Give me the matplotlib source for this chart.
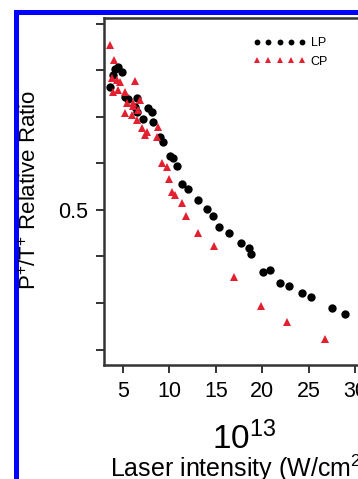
import matplotlib
matplotlib.use("Agg")
import matplotlib.pyplot as plt
from matplotlib.patches import Rectangle

plt.rcParams['font.family'] = ['Liberation Sans', 'DejaVu Sans']
plt.rcParams['mathtext.fontset'] = 'custom'
plt.rcParams['mathtext.rm'] = 'Liberation Sans'
plt.rcParams['mathtext.it'] = 'Liberation Sans:italic'

# laser intensity (x 1e13 W/cm^2) and P+/T+ ratio
lp_x = [3.60, 3.92, 4.14, 4.46, 4.89, 5.22, 5.54, 6.51, 6.29, 6.51, 7.16, 7.69,
        8.13, 8.23, 8.99, 9.31, 10.06, 10.39, 10.82, 11.36, 12.00, 13.08, 14.05,
        14.70, 15.34, 16.42, 17.72, 18.58, 18.79, 20.09, 20.84, 21.92, 22.89,
        24.29, 25.26, 27.52, 28.92]
lp_y = [0.764, 0.790, 0.803, 0.807, 0.796, 0.742, 0.738, 0.740, 0.721, 0.710,
        0.695, 0.719, 0.710, 0.689, 0.657, 0.646, 0.616, 0.612, 0.594, 0.556,
        0.545, 0.521, 0.502, 0.487, 0.464, 0.451, 0.429, 0.418, 0.406, 0.367,
        0.371, 0.343, 0.337, 0.322, 0.313, 0.290, 0.277]

cp_x = [3.60, 4.03, 3.81, 4.35, 4.68, 6.29, 3.92, 4.46, 5.22, 5.43, 6.08, 6.83,
        6.08, 5.22, 5.97, 6.62, 6.51, 7.05, 7.59, 7.37, 8.77, 8.66, 9.20, 9.74,
        9.96, 10.28, 10.60, 11.36, 11.79, 13.08, 14.81, 16.96, 19.87, 22.67, 26.77]
cp_y = [0.854, 0.822, 0.783, 0.779, 0.775, 0.777, 0.753, 0.758, 0.753, 0.730,
        0.730, 0.736, 0.723, 0.708, 0.704, 0.715, 0.693, 0.676, 0.667, 0.661,
        0.678, 0.657, 0.601, 0.592, 0.567, 0.539, 0.532, 0.515, 0.487, 0.451,
        0.423, 0.356, 0.294, 0.260, 0.223]

x_ticks = [5, 10, 15, 20, 25, 30, 35]
y_ticks = [0.2, 0.3, 0.4, 0.5, 0.6, 0.7, 0.8, 0.9]
y_ticklabels = ['', '', '', '0.5', '', '', '', '']

red = '#e3202f'

fig = plt.figure(figsize=(3.58, 4.79), dpi=100)
ax = fig.add_axes([0.2905, 0.238, 0.85, 0.7244])

ax.plot(lp_x, lp_y, 'o', color='black', ms=6, mew=0, label='LP')
ax.plot(cp_x, cp_y, '^', color=red, ms=6, mew=0, label='CP')

ax.set_xlim(2.95, 2.95 + 0.85 * 358 / 9.28)
ax.set_ylim(0.167, 0.912)
ax.set_xticks(x_ticks)
ax.set_yticks(y_ticks)
ax.set_yticklabels(y_ticklabels)
ax.tick_params(direction='out', length=5.5, width=1.4, labelsize=15.5,
               color='#333333', pad=6)
for s in ax.spines.values():
    s.set_linewidth(1.8)
    s.set_color('#333333')

leg = ax.legend(loc='upper left', bbox_to_anchor=(0.69, 0.935),
                bbox_transform=fig.transFigure, numpoints=5, frameon=False,
                fontsize=9, handlelength=4.2, handletextpad=0.4,
                markerscale=0.7, labelspacing=0.5, borderpad=0)

fig.text(30 / 358, 1 - 190 / 479, r'$\mathregular{P^{+}/T^{+}}$ Relative Ratio',
         rotation=90, ha='center', va='center', fontsize=16)
fig.text(244 / 358, 1 - 449 / 479, r'$\mathregular{10^{13}}$',
         ha='center', va='baseline', fontsize=24)
fig.text(110 / 358, 1 - 477 / 479, r'Laser intensity (W/cm$\mathregular{^{2}}$)',
         ha='left', va='baseline', fontsize=18)

# blue frame around the panel
fig.add_artist(Rectangle((14 / 358, 0), 4.5 / 358, 1 - 10 / 479,
                         transform=fig.transFigure, color='#0000ff', lw=0))
fig.add_artist(Rectangle((14 / 358, 1 - 15 / 479), 1, 5 / 479,
                         transform=fig.transFigure, color='#0000ff', lw=0))

fig.savefig('out.png', dpi=100)
